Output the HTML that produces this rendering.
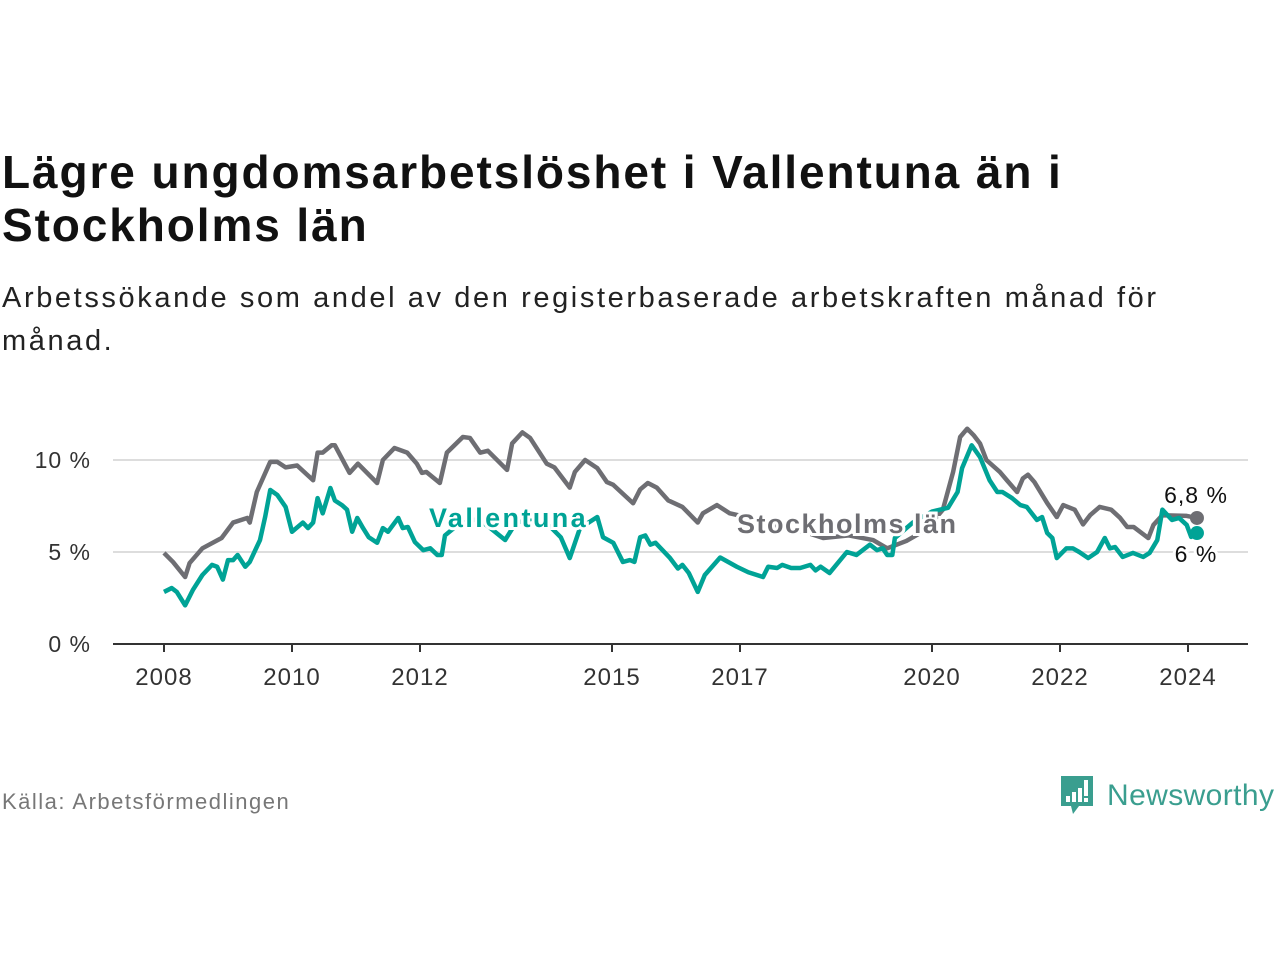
<!DOCTYPE html>
<html><head><meta charset="utf-8"><style>
body{margin:0;width:1280px;height:960px;background:#fff;font-family:"Liberation Sans",sans-serif;position:relative;overflow:hidden}
.t{position:absolute;left:2px;margin:0}
</style></head><body>
<h1 class="t" style="top:146px;width:1110px;font-size:46px;letter-spacing:1.9px;line-height:53px;font-weight:bold;color:#111">Lägre ungdomsarbetslöshet i Vallentuna än i Stockholms län</h1>
<p class="t" style="top:277px;font-size:29px;letter-spacing:2.6px;line-height:43px;color:#222;width:1200px">Arbetssökande som andel av den registerbaserade arbetskraften månad för månad.</p>
<svg id="chart" width="1280" height="960" style="position:absolute;left:0;top:0" xmlns="http://www.w3.org/2000/svg"></svg>
<div style="position:absolute;left:2px;top:789px;font-size:22px;letter-spacing:1.5px;color:#777">Källa: Arbetsförmedlingen</div>
<div style="position:absolute;left:1059px;top:774px;height:44px;display:flex;align-items:center">
<svg width="36" height="44" viewBox="0 0 36 44"><path d="M2 2h32v30H20l-6 8-2-8H2z" fill="#3a9e8f"/><rect x="7" y="22" width="4" height="6" fill="#fff"/><rect x="13" y="18" width="4" height="10" fill="#fff"/><rect x="19" y="14" width="4" height="14" fill="#fff"/><rect x="25" y="6" width="4" height="16" fill="#fff"/><rect x="25" y="24" width="4" height="4" fill="#fff"/></svg>
<span style="margin-left:12px;font-size:30px;letter-spacing:0.4px;color:#3a9e8f;font-weight:500">Newsworthy</span></div>
<script>
const yTicks=[0,5,10];
const yTickLabels=["0 %","5 %","10 %"];
const xTicks=[2008,2010,2012,2015,2017,2020,2022,2024];
const stockDates=[2008.0,2008.14,2008.33,2008.4,2008.6,2008.9,2009.08,2009.3,2009.34,2009.45,2009.66,2009.77,2009.9,2010.08,2010.33,2010.4,2010.48,2010.62,2010.67,2010.9,2011.03,2011.33,2011.42,2011.6,2011.8,2011.95,2012.03,2012.1,2012.31,2012.42,2012.67,2012.78,2012.94,2013.06,2013.36,2013.44,2013.6,2013.72,2013.98,2014.1,2014.34,2014.42,2014.58,2014.77,2014.92,2015.02,2015.33,2015.44,2015.56,2015.7,2015.88,2016.1,2016.34,2016.42,2016.64,2016.84,2017.1,2017.4,2017.7,2018.0,2018.3,2018.7,2019.08,2019.3,2019.6,2019.9,2020.17,2020.33,2020.44,2020.55,2020.65,2020.75,2020.85,2021.06,2021.17,2021.33,2021.42,2021.5,2021.6,2021.8,2021.95,2022.05,2022.23,2022.36,2022.47,2022.62,2022.8,2022.94,2023.05,2023.15,2023.38,2023.46,2023.6,2023.98,2024.14];
const stockValues=[4.95,4.46,3.64,4.4,5.2,5.76,6.6,6.85,6.6,8.26,9.9,9.9,9.6,9.7,8.9,10.4,10.4,10.8,10.8,9.3,9.8,8.75,10.0,10.65,10.4,9.8,9.3,9.35,8.75,10.4,11.25,11.2,10.4,10.5,9.46,10.9,11.5,11.2,9.8,9.6,8.5,9.35,10.0,9.56,8.8,8.65,7.65,8.4,8.75,8.5,7.8,7.45,6.6,7.1,7.55,7.1,6.9,6.6,6.3,6.1,5.76,5.9,5.65,5.2,5.6,6.2,7.3,9.35,11.25,11.7,11.35,10.9,10.0,9.35,8.9,8.26,9.0,9.2,8.8,7.66,6.9,7.55,7.3,6.5,7.0,7.45,7.3,6.85,6.36,6.36,5.76,6.47,7.0,6.96,6.85];
const valDates=[2008.0,2008.12,2008.2,2008.33,2008.45,2008.6,2008.75,2008.83,2008.92,2009.0,2009.08,2009.15,2009.27,2009.34,2009.5,2009.58,2009.66,2009.77,2009.9,2010.0,2010.17,2010.25,2010.33,2010.4,2010.48,2010.6,2010.67,2010.78,2010.86,2010.94,2011.02,2011.11,2011.2,2011.33,2011.42,2011.5,2011.66,2011.73,2011.81,2011.92,2012.05,2012.16,2012.27,2012.34,2012.39,2012.6,2012.9,2013.1,2013.33,2013.5,2013.8,2014.0,2014.2,2014.34,2014.5,2014.77,2014.86,2015.02,2015.17,2015.28,2015.35,2015.44,2015.52,2015.6,2015.68,2015.9,2016.03,2016.1,2016.2,2016.34,2016.45,2016.69,2016.95,2017.13,2017.36,2017.44,2017.58,2017.66,2017.8,2017.94,2018.1,2018.18,2018.26,2018.4,2018.67,2018.82,2019.03,2019.14,2019.23,2019.3,2019.38,2019.42,2019.7,2020.0,2020.25,2020.4,2020.47,2020.62,2020.75,2020.9,2021.02,2021.1,2021.25,2021.38,2021.48,2021.64,2021.72,2021.8,2021.88,2021.95,2022.1,2022.2,2022.3,2022.44,2022.58,2022.7,2022.78,2022.86,2022.98,2023.14,2023.3,2023.4,2023.52,2023.6,2023.75,2023.86,2023.98,2024.05,2024.14];
const valValues=[2.83,3.04,2.83,2.1,2.93,3.75,4.3,4.2,3.5,4.56,4.56,4.84,4.2,4.46,5.65,6.9,8.37,8.1,7.45,6.1,6.6,6.3,6.6,7.93,7.1,8.48,7.8,7.55,7.3,6.1,6.85,6.3,5.8,5.5,6.3,6.1,6.85,6.3,6.36,5.54,5.1,5.2,4.84,4.84,5.9,6.5,6.8,6.3,5.65,6.6,6.8,6.5,5.8,4.67,6.3,6.9,5.8,5.5,4.46,4.56,4.46,5.8,5.9,5.4,5.5,4.7,4.1,4.3,3.86,2.83,3.75,4.7,4.2,3.9,3.64,4.2,4.13,4.3,4.13,4.13,4.3,4.0,4.2,3.86,5.0,4.84,5.4,5.1,5.2,4.84,4.84,5.76,6.6,7.2,7.4,8.26,9.56,10.8,10.16,8.9,8.26,8.26,7.93,7.55,7.45,6.74,6.9,6.03,5.76,4.67,5.2,5.2,5.0,4.67,5.0,5.76,5.2,5.27,4.73,4.95,4.73,4.95,5.65,7.3,6.74,6.85,6.47,5.82,6.03];
const svg=document.getElementById('chart');
const NS='http://www.w3.org/2000/svg';
const xS=t=>164+(t-2008)*64;
const yS=v=>644-v*18.4;
function mk(tag,attrs){const e=document.createElementNS(NS,tag);for(const k in attrs)e.setAttribute(k,attrs[k]);svg.appendChild(e);return e;}
yTicks.forEach((v,i)=>{
  if(v>0){const g=mk('line',{x1:113,x2:1248,y1:yS(v),y2:yS(v),stroke:'#ddd','stroke-width':2});
  
  }
  const l=mk('text',{x:91,y:yS(v)+8,'text-anchor':'end','font-size':23,'letter-spacing':1,fill:'#333'});
  l.textContent=yTickLabels[i];
  
  
});
const ax=mk('line',{x1:113,x2:1248,y1:644,y2:644,stroke:'#333','stroke-width':2});


xTicks.forEach(t=>{
  const tk=mk('line',{x1:xS(t),x2:xS(t),y1:644,y2:652,stroke:'#333','stroke-width':2});
  
  
  const l=mk('text',{x:xS(t),y:685,'text-anchor':'middle','font-size':24,'letter-spacing':1,fill:'#333'});
  l.textContent=String(t);
  
  
});
function line(d,v,c,name){
  const p=mk('polyline',{points:d.map((t,i)=>xS(t)+','+yS(v[i])).join(' '),fill:'none',stroke:c,'stroke-width':4.5,'stroke-linejoin':'round'});
  
  
  const n=d.length-1;
  const dot=mk('circle',{cx:xS(d[n]),cy:yS(v[n]),r:7,fill:c});
  
  
}
line(stockDates,stockValues,'#6e6e73','stockholm-line');
line(valDates,valValues,'#00a396','vallentuna-line');
function lab(x,y,txt,c,size,w,name,anchor,ls){
  const t=mk('text',{x:x,y:y,'font-size':size,'font-weight':w,fill:c,stroke:'#fff','stroke-width':6,'paint-order':'stroke','text-anchor':anchor||'start','letter-spacing':ls||0});
  t.textContent=txt;
  
  
}
lab(429,527,'Vallentuna','#00a396',27,'bold','vallentuna-label','start',2.4);
lab(737,533,'Stockholms län','#6e6e73',27,'bold','stockholm-label','start',1.5);
lab(1196,503,'6,8 %','#111',23,'normal','stockholm-end-value','middle',1);
lab(1196,562,'6 %','#111',23,'normal','vallentuna-end-value','middle',1);
</script>
</body></html>
